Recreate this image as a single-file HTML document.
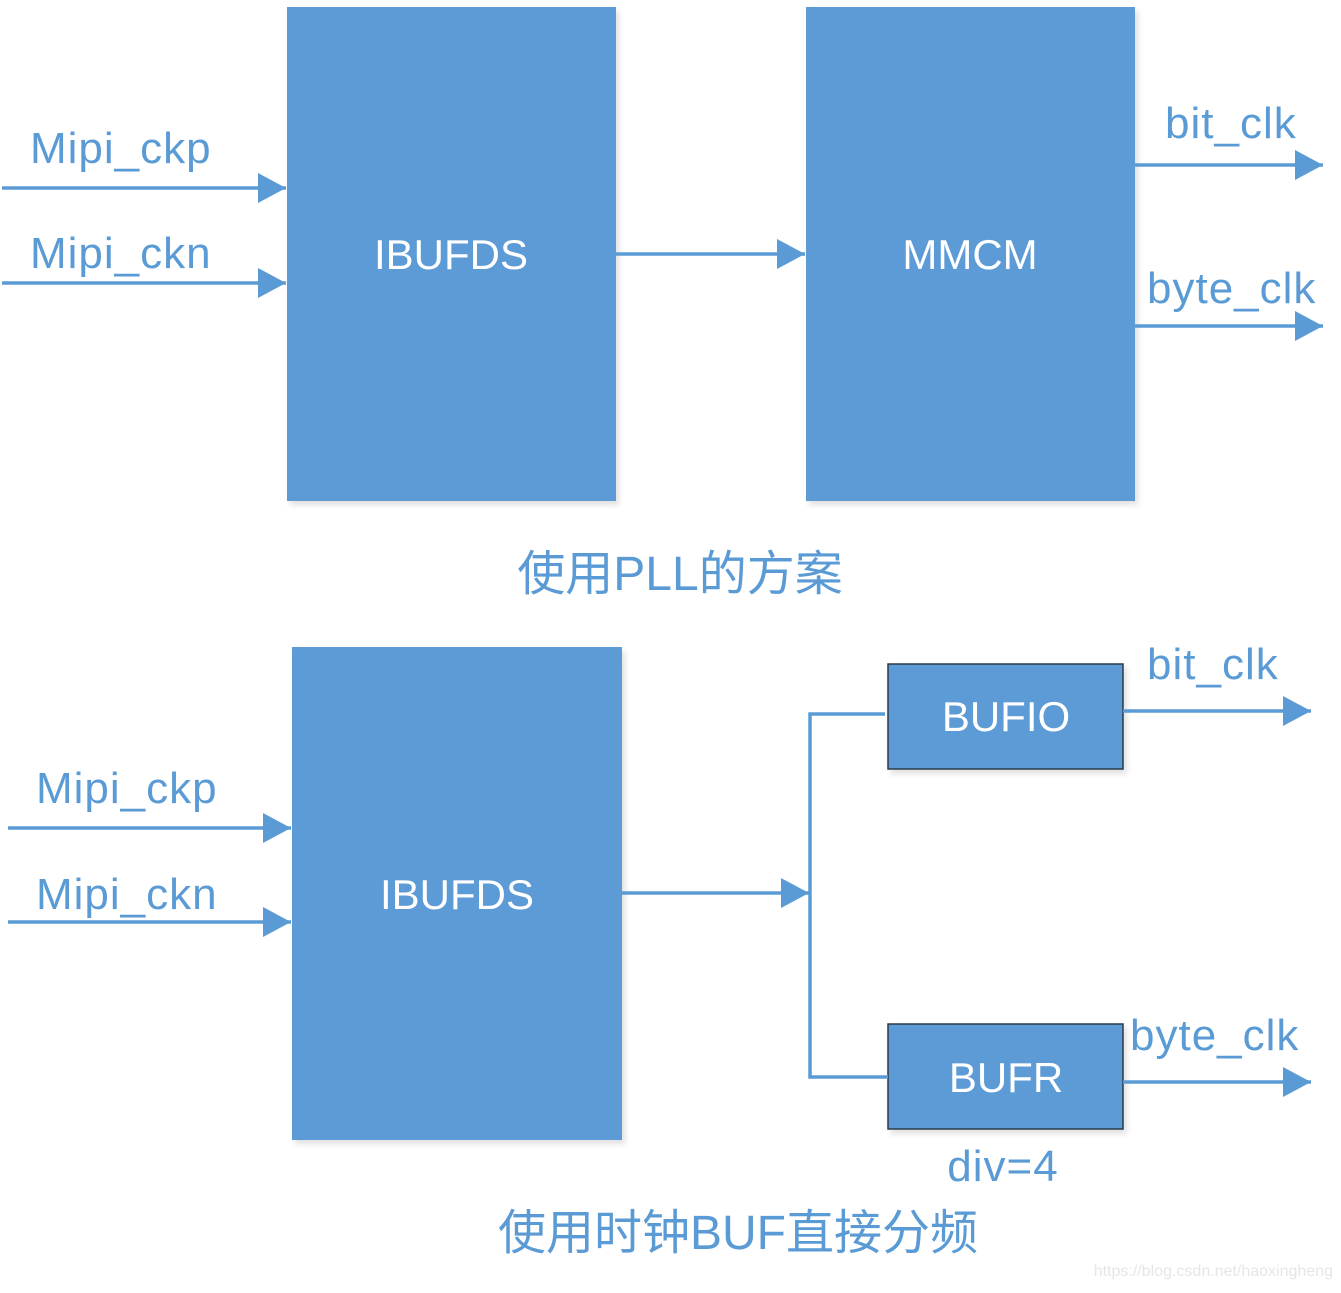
<!DOCTYPE html>
<html><head><meta charset="utf-8"><style>
html,body{margin:0;padding:0;background:#fff;}
svg text{font-family:"Liberation Sans","Noto Sans CJK SC",sans-serif;fill:#5B9BD5;}
</style></head><body>
<svg width="1341" height="1288" viewBox="0 0 1341 1288" xmlns="http://www.w3.org/2000/svg">
<defs>
<marker id="a" markerWidth="28" markerHeight="30" refX="28" refY="15" orient="auto" markerUnits="userSpaceOnUse">
<path d="M0,0 L28,15 L0,30 Z" fill="#5B9BD5"/></marker>
<filter id="s" x="-5%" y="-5%" width="112%" height="112%"><feDropShadow dx="3" dy="4" stdDeviation="3" flood-color="#000" flood-opacity="0.12"/></filter>
</defs>
<g fill="#5B9BD5" filter="url(#s)">
<rect x="287" y="7" width="329" height="494"/>
<rect x="806" y="7" width="329" height="494"/>
<rect x="292" y="647" width="330" height="493"/>
<rect x="888" y="664" width="235" height="105" stroke="#2a3a4a" stroke-width="1.5"/>
<rect x="888" y="1024" width="235" height="105" stroke="#2a3a4a" stroke-width="1.5"/>
</g>
<g stroke="#5B9BD5" stroke-width="3.5" fill="none">
<line x1="2" y1="188" x2="286" y2="188" marker-end="url(#a)"/>
<line x1="2" y1="283" x2="286" y2="283" marker-end="url(#a)"/>
<line x1="616" y1="254" x2="805" y2="254" marker-end="url(#a)"/>
<line x1="1135" y1="165" x2="1323" y2="165" marker-end="url(#a)"/>
<line x1="1135" y1="326" x2="1323" y2="326" marker-end="url(#a)"/>
<line x1="8" y1="828" x2="291" y2="828" marker-end="url(#a)"/>
<line x1="8" y1="922" x2="291" y2="922" marker-end="url(#a)"/>
<line x1="622" y1="893" x2="809" y2="893" marker-end="url(#a)"/>
<polyline points="885,714 810,714 810,1077 888,1077"/>
<line x1="1123" y1="711" x2="1311" y2="711" marker-end="url(#a)"/>
<line x1="1123" y1="1082" x2="1311" y2="1082" marker-end="url(#a)"/>
</g>
<g font-size="44" letter-spacing="1">
<text x="30" y="163">Mipi_ckp</text>
<text x="30" y="268">Mipi_ckn</text>
<text x="1165" y="138">bit_clk</text>
<text x="1147" y="303">byte_clk</text>
<text x="36" y="803">Mipi_ckp</text>
<text x="36" y="909">Mipi_ckn</text>
<text x="1147" y="679">bit_clk</text>
<text x="1130" y="1050">byte_clk</text>
<text x="1003" y="1181" text-anchor="middle">div=4</text>
</g>
<g font-size="42" text-anchor="middle">
<text x="451" y="269" style="fill:#fff">IBUFDS</text>
<text x="970" y="269" style="fill:#fff">MMCM</text>
<text x="457" y="909" style="fill:#fff">IBUFDS</text>
<text x="1006" y="731" style="fill:#fff">BUFIO</text>
<text x="1006" y="1092" style="fill:#fff">BUFR</text>
</g>
<g font-size="48" text-anchor="middle">
<text x="680" y="590">使用PLL的方案</text>
<text x="738" y="1249">使用时钟BUF直接分频</text>
</g>
<text x="1333" y="1276" font-size="16" text-anchor="end" style="fill:#e6e6e6">https://blog.csdn.net/haoxingheng</text>
</svg>
</body></html>
